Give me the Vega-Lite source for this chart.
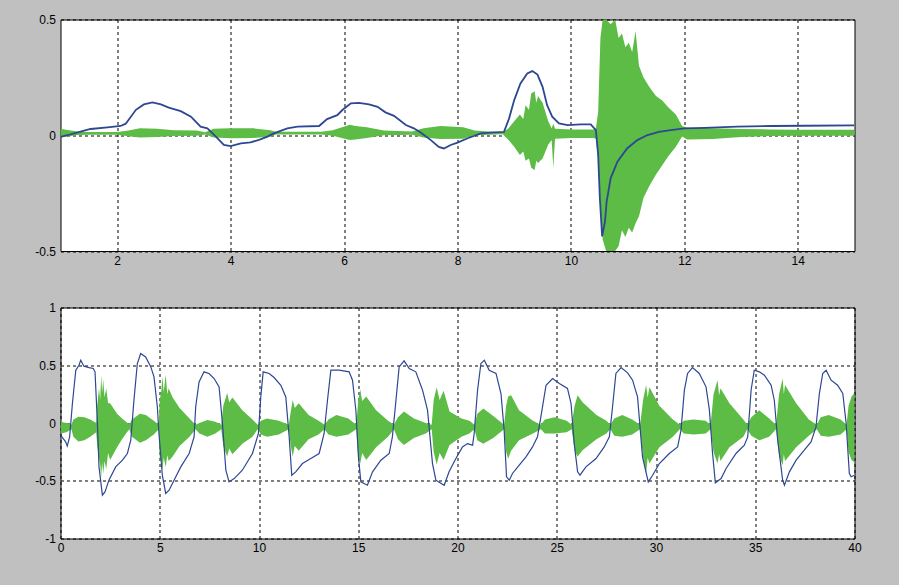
{
"$schema": "https://vega.github.io/schema/vega-lite/v6.json",
"background": "#c0c0c0",
"padding": {"left": 33.5, "top": 12.5, "right": 40, "bottom": 31},
"bounds": "flush",
"spacing": 56,
"datasets": {
"tb": [
{"t":1.0,"v":-0.007},{"t":1.12,"v":0.0},{"t":1.24,"v":0.008},{"t":1.53,"v":0.027},{"t":1.83,"v":0.034},{"t":2.06,"v":0.04},{"t":2.15,"v":0.05},{"t":2.33,"v":0.11},{"t":2.47,"v":0.133},{"t":2.62,"v":0.142},{"t":2.77,"v":0.133},{"t":2.91,"v":0.119},{"t":3.12,"v":0.104},{"t":3.3,"v":0.08},{"t":3.47,"v":0.037},{"t":3.59,"v":0.03},{"t":3.74,"v":-0.006},{"t":3.88,"v":-0.042},{"t":4.0,"v":-0.047},{"t":4.18,"v":-0.035},{"t":4.35,"v":-0.031},{"t":4.5,"v":-0.02},{"t":4.65,"v":-0.006},{"t":4.76,"v":0.008},{"t":5.0,"v":0.03},{"t":5.18,"v":0.037},{"t":5.56,"v":0.04},{"t":5.7,"v":0.07},{"t":5.88,"v":0.087},{"t":5.97,"v":0.109},{"t":6.12,"v":0.138},{"t":6.26,"v":0.14},{"t":6.44,"v":0.133},{"t":6.59,"v":0.123},{"t":6.73,"v":0.099},{"t":6.88,"v":0.084},{"t":7.09,"v":0.044},{"t":7.23,"v":0.03},{"t":7.35,"v":0.012},{"t":7.53,"v":-0.021},{"t":7.67,"v":-0.05},{"t":7.76,"v":-0.057},{"t":7.88,"v":-0.042},{"t":8.0,"v":-0.032},{"t":8.17,"v":-0.014},{"t":8.41,"v":0.008},{"t":8.64,"v":0.012},{"t":8.82,"v":0.015},{"t":8.91,"v":0.073},{"t":9.0,"v":0.152},{"t":9.11,"v":0.224},{"t":9.23,"v":0.267},{"t":9.32,"v":0.277},{"t":9.41,"v":0.262},{"t":9.5,"v":0.209},{"t":9.58,"v":0.13},{"t":9.67,"v":0.08},{"t":9.79,"v":0.051},{"t":9.94,"v":0.044},{"t":10.17,"v":0.047},{"t":10.35,"v":0.047},{"t":10.44,"v":0.022},{"t":10.48,"v":-0.085},{"t":10.51,"v":-0.272},{"t":10.55,"v":-0.437},{"t":10.6,"v":-0.373},{"t":10.63,"v":-0.287},{"t":10.7,"v":-0.186},{"t":10.82,"v":-0.114},{"t":10.99,"v":-0.057},{"t":11.17,"v":-0.021},{"t":11.35,"v":0.001},{"t":11.55,"v":0.015},{"t":11.76,"v":0.022},{"t":12.0,"v":0.03},{"t":12.35,"v":0.032},{"t":12.93,"v":0.037},{"t":13.52,"v":0.04},{"t":14.11,"v":0.041},{"t":15.0,"v":0.043}
],
"tg": [
{"t":1.0,"hi":0.028,"lo":-0.01},{"t":1.15,"hi":0.022,"lo":-0.004},{"t":1.3,"hi":0.016,"lo":0.001},{"t":1.5,"hi":0.014,"lo":0.002},{"t":2.0,"hi":0.014,"lo":0.002},{"t":2.2,"hi":0.02,"lo":-0.004},{"t":2.4,"hi":0.03,"lo":-0.01},{"t":2.7,"hi":0.028,"lo":-0.008},{"t":3.0,"hi":0.022,"lo":-0.003},{"t":3.4,"hi":0.02,"lo":-0.002},{"t":3.55,"hi":0.013,"lo":0.003},{"t":3.7,"hi":0.028,"lo":-0.01},{"t":4.0,"hi":0.03,"lo":-0.013},{"t":4.4,"hi":0.03,"lo":-0.012},{"t":4.7,"hi":0.022,"lo":-0.005},{"t":4.8,"hi":0.015,"lo":0.003},{"t":5.6,"hi":0.015,"lo":0.003},{"t":5.8,"hi":0.022,"lo":-0.002},{"t":6.1,"hi":0.045,"lo":-0.02},{"t":6.2,"hi":0.04,"lo":-0.018},{"t":6.4,"hi":0.035,"lo":-0.012},{"t":6.7,"hi":0.02,"lo":0.0},{"t":7.2,"hi":0.016,"lo":0.002},{"t":7.4,"hi":0.03,"lo":-0.01},{"t":7.7,"hi":0.04,"lo":-0.016},{"t":8.1,"hi":0.035,"lo":-0.015},{"t":8.3,"hi":0.02,"lo":0.0},{"t":8.8,"hi":0.012,"lo":0.004},{"t":8.9,"hi":0.03,"lo":-0.02},{"t":9.0,"hi":0.06,"lo":-0.05},{"t":9.1,"hi":0.09,"lo":-0.085},{"t":9.16,"hi":0.07,"lo":-0.07},{"t":9.2,"hi":0.13,"lo":-0.11},{"t":9.26,"hi":0.11,"lo":-0.1},{"t":9.3,"hi":0.18,"lo":-0.14},{"t":9.36,"hi":0.19,"lo":-0.15},{"t":9.39,"hi":0.14,"lo":-0.11},{"t":9.42,"hi":0.17,"lo":-0.12},{"t":9.5,"hi":0.14,"lo":-0.1},{"t":9.6,"hi":0.06,"lo":-0.04},{"t":9.66,"hi":0.03,"lo":-0.02},{"t":9.69,"hi":0.05,"lo":-0.14},{"t":9.72,"hi":0.028,"lo":-0.015},{"t":10.0,"hi":0.025,"lo":-0.012},{"t":10.4,"hi":0.025,"lo":-0.012},{"t":10.44,"hi":0.03,"lo":-0.015},{"t":10.48,"hi":0.1,"lo":-0.1},{"t":10.52,"hi":0.42,"lo":-0.3},{"t":10.56,"hi":0.5,"lo":-0.45},{"t":10.62,"hi":0.5,"lo":-0.5},{"t":10.7,"hi":0.48,"lo":-0.5},{"t":10.78,"hi":0.5,"lo":-0.5},{"t":10.84,"hi":0.42,"lo":-0.48},{"t":10.9,"hi":0.44,"lo":-0.41},{"t":10.96,"hi":0.38,"lo":-0.44},{"t":11.02,"hi":0.4,"lo":-0.4},{"t":11.08,"hi":0.36,"lo":-0.42},{"t":11.14,"hi":0.45,"lo":-0.38},{"t":11.2,"hi":0.3,"lo":-0.35},{"t":11.28,"hi":0.25,"lo":-0.27},{"t":11.38,"hi":0.21,"lo":-0.22},{"t":11.5,"hi":0.17,"lo":-0.17},{"t":11.61,"hi":0.15,"lo":-0.13},{"t":11.72,"hi":0.12,"lo":-0.09},{"t":11.85,"hi":0.09,"lo":-0.05},{"t":11.96,"hi":0.04,"lo":-0.005},{"t":12.05,"hi":0.032,"lo":-0.018},{"t":12.5,"hi":0.03,"lo":-0.016},{"t":13.0,"hi":0.027,"lo":-0.008},{"t":13.5,"hi":0.025,"lo":-0.003},{"t":14.0,"hi":0.024,"lo":-0.002},{"t":15.0,"hi":0.024,"lo":-0.002}
],
"bb": [
{"t":0.0,"v":-0.106},{"t":0.26,"v":-0.163},{"t":0.34,"v":-0.2},{"t":0.46,"v":-0.12},{"t":0.6,"v":0.169},{"t":0.77,"v":0.457},{"t":0.93,"v":0.5},{"t":1.02,"v":0.544},{"t":1.18,"v":0.492},{"t":1.44,"v":0.48},{"t":1.65,"v":0.472},{"t":1.74,"v":0.443},{"t":1.86,"v":-0.005},{"t":1.94,"v":-0.38},{"t":2.11,"v":-0.625},{"t":2.24,"v":-0.596},{"t":2.44,"v":-0.495},{"t":2.78,"v":-0.38},{"t":3.12,"v":-0.322},{"t":3.37,"v":-0.264},{"t":3.54,"v":-0.149},{"t":3.7,"v":0.197},{"t":3.87,"v":0.515},{"t":4.04,"v":0.602},{"t":4.29,"v":0.572},{"t":4.55,"v":0.486},{"t":4.71,"v":0.399},{"t":4.88,"v":0.139},{"t":4.96,"v":-0.091},{"t":5.13,"v":-0.452},{"t":5.3,"v":-0.61},{"t":5.47,"v":-0.582},{"t":5.72,"v":-0.495},{"t":6.06,"v":-0.38},{"t":6.48,"v":-0.264},{"t":6.73,"v":-0.12},{"t":6.81,"v":0.139},{"t":6.98,"v":0.356},{"t":7.23,"v":0.443},{"t":7.48,"v":0.429},{"t":7.74,"v":0.385},{"t":7.99,"v":0.313},{"t":8.16,"v":-0.005},{"t":8.33,"v":-0.409},{"t":8.49,"v":-0.51},{"t":8.75,"v":-0.481},{"t":9.16,"v":-0.409},{"t":9.67,"v":-0.264},{"t":9.97,"v":-0.091},{"t":10.09,"v":0.226},{"t":10.21,"v":0.443},{"t":10.51,"v":0.429},{"t":10.76,"v":0.394},{"t":11.1,"v":0.327},{"t":11.35,"v":0.226},{"t":11.52,"v":-0.12},{"t":11.65,"v":-0.452},{"t":11.85,"v":-0.423},{"t":12.19,"v":-0.351},{"t":12.61,"v":-0.308},{"t":13.03,"v":-0.264},{"t":13.28,"v":-0.091},{"t":13.45,"v":0.197},{"t":13.62,"v":0.457},{"t":14.04,"v":0.457},{"t":14.54,"v":0.443},{"t":14.71,"v":0.371},{"t":14.88,"v":0.111},{"t":15.01,"v":-0.293},{"t":15.13,"v":-0.51},{"t":15.46,"v":-0.539},{"t":15.72,"v":-0.423},{"t":16.14,"v":-0.322},{"t":16.56,"v":-0.264},{"t":16.72,"v":-0.12},{"t":16.9,"v":0.197},{"t":17.06,"v":0.486},{"t":17.31,"v":0.538},{"t":17.57,"v":0.472},{"t":17.9,"v":0.443},{"t":18.24,"v":0.284},{"t":18.49,"v":0.111},{"t":18.74,"v":-0.351},{"t":18.91,"v":-0.495},{"t":19.33,"v":-0.539},{"t":19.58,"v":-0.42},{"t":19.92,"v":-0.308},{"t":20.25,"v":-0.207},{"t":20.5,"v":-0.178},{"t":20.76,"v":-0.192},{"t":20.84,"v":-0.091},{"t":21.01,"v":0.284},{"t":21.18,"v":0.515},{"t":21.35,"v":0.544},{"t":21.6,"v":0.457},{"t":21.94,"v":0.429},{"t":22.19,"v":0.255},{"t":22.35,"v":-0.062},{"t":22.47,"v":-0.466},{"t":22.61,"v":-0.495},{"t":22.77,"v":-0.437},{"t":23.11,"v":-0.365},{"t":23.45,"v":-0.293},{"t":23.78,"v":-0.207},{"t":24.03,"v":-0.12},{"t":24.2,"v":0.053},{"t":24.46,"v":0.327},{"t":24.79,"v":0.385},{"t":25.13,"v":0.342},{"t":25.54,"v":0.299},{"t":25.72,"v":0.169},{"t":25.88,"v":-0.178},{"t":26.05,"v":-0.423},{"t":26.17,"v":-0.452},{"t":26.47,"v":-0.38},{"t":26.98,"v":-0.308},{"t":27.39,"v":-0.207},{"t":27.65,"v":-0.12},{"t":27.81,"v":0.139},{"t":27.98,"v":0.429},{"t":28.24,"v":0.48},{"t":28.57,"v":0.434},{"t":28.82,"v":0.371},{"t":29.07,"v":0.226},{"t":29.32,"v":-0.293},{"t":29.61,"v":-0.51},{"t":29.83,"v":-0.452},{"t":30.17,"v":-0.351},{"t":30.67,"v":-0.264},{"t":31.09,"v":-0.207},{"t":31.26,"v":-0.062},{"t":31.43,"v":0.284},{"t":31.59,"v":0.429},{"t":31.84,"v":0.48},{"t":32.18,"v":0.429},{"t":32.52,"v":0.313},{"t":32.69,"v":0.111},{"t":32.85,"v":-0.264},{"t":32.99,"v":-0.518},{"t":33.28,"v":-0.481},{"t":33.53,"v":-0.394},{"t":34.03,"v":-0.264},{"t":34.45,"v":-0.192},{"t":34.62,"v":-0.12},{"t":34.79,"v":0.284},{"t":34.95,"v":0.457},{"t":35.21,"v":0.443},{"t":35.46,"v":0.414},{"t":35.8,"v":0.327},{"t":35.96,"v":0.197},{"t":36.13,"v":-0.149},{"t":36.38,"v":-0.495},{"t":36.47,"v":-0.539},{"t":36.72,"v":-0.423},{"t":37.06,"v":-0.322},{"t":37.47,"v":-0.235},{"t":37.81,"v":-0.164},{"t":38.06,"v":-0.034},{"t":38.23,"v":0.255},{"t":38.4,"v":0.429},{"t":38.57,"v":0.457},{"t":38.82,"v":0.371},{"t":39.15,"v":0.327},{"t":39.41,"v":0.255},{"t":39.58,"v":-0.005},{"t":39.74,"v":-0.437},{"t":39.83,"v":-0.466},{"t":40.0,"v":-0.452}
],
"bg": [
{"t":0.0,"hi":0.01,"lo":-0.09},{"t":0.3,"hi":0.0,"lo":-0.08},{"t":0.55,"hi":-0.015,"lo":-0.055},{"t":0.65,"hi":0.03,"lo":-0.12},{"t":0.9,"hi":0.055,"lo":-0.16},{"t":1.2,"hi":0.05,"lo":-0.15},{"t":1.5,"hi":0.03,"lo":-0.12},{"t":1.8,"hi":0.0,"lo":-0.08},{"t":1.85,"hi":0.15,"lo":-0.2},{"t":1.94,"hi":0.3,"lo":-0.3},{"t":2.0,"hi":0.2,"lo":-0.36},{"t":2.05,"hi":0.42,"lo":-0.47},{"t":2.1,"hi":0.26,"lo":-0.34},{"t":2.15,"hi":0.38,"lo":-0.44},{"t":2.22,"hi":0.22,"lo":-0.33},{"t":2.3,"hi":0.3,"lo":-0.4},{"t":2.4,"hi":0.17,"lo":-0.26},{"t":2.5,"hi":0.17,"lo":-0.32},{"t":2.85,"hi":0.08,"lo":-0.21},{"t":3.1,"hi":0.04,"lo":-0.14},{"t":3.3,"hi":0.01,"lo":-0.09},{"t":3.47,"hi":-0.015,"lo":-0.055},{"t":3.6,"hi":0.03,"lo":-0.12},{"t":4.0,"hi":0.08,"lo":-0.17},{"t":4.3,"hi":0.07,"lo":-0.15},{"t":4.7,"hi":0.02,"lo":-0.1},{"t":4.95,"hi":-0.015,"lo":-0.055},{"t":5.0,"hi":0.2,"lo":-0.3},{"t":5.08,"hi":0.28,"lo":-0.32},{"t":5.13,"hi":0.4,"lo":-0.41},{"t":5.2,"hi":0.27,"lo":-0.3},{"t":5.3,"hi":0.42,"lo":-0.38},{"t":5.38,"hi":0.25,"lo":-0.28},{"t":5.45,"hi":0.3,"lo":-0.33},{"t":5.65,"hi":0.22,"lo":-0.29},{"t":6.0,"hi":0.13,"lo":-0.2},{"t":6.5,"hi":0.04,"lo":-0.12},{"t":6.8,"hi":-0.015,"lo":-0.055},{"t":7.0,"hi":0.0,"lo":-0.09},{"t":7.4,"hi":0.025,"lo":-0.12},{"t":7.8,"hi":0.01,"lo":-0.09},{"t":8.1,"hi":-0.015,"lo":-0.055},{"t":8.2,"hi":0.15,"lo":-0.2},{"t":8.4,"hi":0.26,"lo":-0.29},{"t":8.5,"hi":0.18,"lo":-0.22},{"t":8.66,"hi":0.22,"lo":-0.27},{"t":9.16,"hi":0.11,"lo":-0.18},{"t":9.67,"hi":0.03,"lo":-0.12},{"t":9.93,"hi":-0.015,"lo":-0.055},{"t":10.1,"hi":0.02,"lo":-0.1},{"t":10.4,"hi":0.04,"lo":-0.12},{"t":11.0,"hi":0.02,"lo":-0.1},{"t":11.5,"hi":-0.015,"lo":-0.055},{"t":11.6,"hi":0.1,"lo":-0.2},{"t":11.7,"hi":0.2,"lo":-0.29},{"t":11.8,"hi":0.13,"lo":-0.2},{"t":12.0,"hi":0.17,"lo":-0.24},{"t":12.5,"hi":0.07,"lo":-0.14},{"t":13.0,"hi":0.02,"lo":-0.1},{"t":13.3,"hi":-0.015,"lo":-0.055},{"t":13.5,"hi":0.03,"lo":-0.1},{"t":13.9,"hi":0.07,"lo":-0.12},{"t":14.5,"hi":0.04,"lo":-0.1},{"t":14.9,"hi":-0.015,"lo":-0.055},{"t":15.0,"hi":0.2,"lo":-0.3},{"t":15.1,"hi":0.29,"lo":-0.35},{"t":15.2,"hi":0.19,"lo":-0.26},{"t":15.4,"hi":0.23,"lo":-0.32},{"t":15.9,"hi":0.11,"lo":-0.21},{"t":16.5,"hi":0.02,"lo":-0.12},{"t":16.8,"hi":-0.015,"lo":-0.055},{"t":17.0,"hi":0.05,"lo":-0.14},{"t":17.3,"hi":0.1,"lo":-0.19},{"t":17.8,"hi":0.04,"lo":-0.13},{"t":18.4,"hi":0.0,"lo":-0.09},{"t":18.7,"hi":-0.015,"lo":-0.055},{"t":18.8,"hi":0.2,"lo":-0.25},{"t":18.95,"hi":0.31,"lo":-0.36},{"t":19.1,"hi":0.2,"lo":-0.26},{"t":19.3,"hi":0.28,"lo":-0.32},{"t":19.6,"hi":0.1,"lo":-0.19},{"t":20.2,"hi":0.04,"lo":-0.12},{"t":20.6,"hi":0.02,"lo":-0.09},{"t":20.85,"hi":-0.015,"lo":-0.055},{"t":21.0,"hi":0.08,"lo":-0.15},{"t":21.3,"hi":0.125,"lo":-0.18},{"t":21.8,"hi":0.06,"lo":-0.13},{"t":22.35,"hi":-0.015,"lo":-0.055},{"t":22.45,"hi":0.15,"lo":-0.25},{"t":22.55,"hi":0.23,"lo":-0.31},{"t":22.7,"hi":0.24,"lo":-0.24},{"t":23.1,"hi":0.11,"lo":-0.15},{"t":23.8,"hi":0.02,"lo":-0.09},{"t":24.2,"hi":-0.015,"lo":-0.055},{"t":24.4,"hi":0.03,"lo":-0.09},{"t":24.9,"hi":0.05,"lo":-0.09},{"t":25.5,"hi":0.02,"lo":-0.08},{"t":25.75,"hi":-0.015,"lo":-0.055},{"t":25.9,"hi":0.15,"lo":-0.24},{"t":26.05,"hi":0.24,"lo":-0.29},{"t":26.3,"hi":0.18,"lo":-0.235},{"t":27.0,"hi":0.07,"lo":-0.14},{"t":27.5,"hi":0.02,"lo":-0.09},{"t":27.7,"hi":-0.015,"lo":-0.055},{"t":27.9,"hi":0.04,"lo":-0.11},{"t":28.3,"hi":0.07,"lo":-0.12},{"t":28.8,"hi":0.03,"lo":-0.1},{"t":29.2,"hi":-0.015,"lo":-0.055},{"t":29.35,"hi":0.2,"lo":-0.3},{"t":29.5,"hi":0.33,"lo":-0.44},{"t":29.58,"hi":0.22,"lo":-0.3},{"t":29.67,"hi":0.31,"lo":-0.35},{"t":30.17,"hi":0.15,"lo":-0.21},{"t":30.85,"hi":0.03,"lo":-0.12},{"t":31.2,"hi":-0.015,"lo":-0.055},{"t":31.4,"hi":0.02,"lo":-0.09},{"t":31.9,"hi":0.03,"lo":-0.1},{"t":32.5,"hi":0.02,"lo":-0.09},{"t":32.75,"hi":-0.015,"lo":-0.055},{"t":32.9,"hi":0.25,"lo":-0.25},{"t":33.1,"hi":0.37,"lo":-0.35},{"t":33.18,"hi":0.24,"lo":-0.27},{"t":33.25,"hi":0.3,"lo":-0.33},{"t":33.7,"hi":0.17,"lo":-0.21},{"t":34.4,"hi":0.03,"lo":-0.12},{"t":34.6,"hi":-0.015,"lo":-0.055},{"t":34.8,"hi":0.05,"lo":-0.11},{"t":35.2,"hi":0.11,"lo":-0.15},{"t":35.7,"hi":0.04,"lo":-0.12},{"t":36.05,"hi":-0.015,"lo":-0.055},{"t":36.2,"hi":0.25,"lo":-0.28},{"t":36.38,"hi":0.385,"lo":-0.365},{"t":36.44,"hi":0.25,"lo":-0.27},{"t":36.5,"hi":0.33,"lo":-0.33},{"t":37.06,"hi":0.17,"lo":-0.21},{"t":37.7,"hi":0.03,"lo":-0.11},{"t":38.1,"hi":-0.015,"lo":-0.055},{"t":38.3,"hi":0.05,"lo":-0.11},{"t":38.7,"hi":0.07,"lo":-0.12},{"t":39.3,"hi":0.03,"lo":-0.1},{"t":39.6,"hi":-0.015,"lo":-0.055},{"t":39.7,"hi":0.15,"lo":-0.25},{"t":39.85,"hi":0.23,"lo":-0.32},{"t":40.0,"hi":0.26,"lo":-0.34}
]
},
"vconcat": [
{
"width": 794, "height": 231.5,
"layer": [
{"data": {"name": "tg"}, "mark": {"type": "area", "color": "#5cbc45", "opacity": 1, "clip": true},
 "encoding": {
  "x": {"field": "t", "type": "quantitative", "scale": {"domain": [1, 15], "nice": false, "zero": false}, "axis": {"values": [2,4,6,8,10,12,14], "title": null}},
  "y": {"field": "hi", "type": "quantitative", "scale": {"domain": [-0.5, 0.5], "nice": false, "zero": false}, "axis": {"values": [-0.5, 0, 0.5], "title": null}},
  "y2": {"field": "lo"}
 }},
{"data": {"name": "tb"}, "mark": {"type": "line", "color": "#2e4793", "strokeWidth": 1.8, "clip": true},
 "encoding": {
  "x": {"field": "t", "type": "quantitative"},
  "y": {"field": "v", "type": "quantitative"}
 }}
]
},
{
"width": 794, "height": 231,
"layer": [
{"data": {"name": "bg"}, "mark": {"type": "area", "color": "#5cbc45", "opacity": 1, "clip": true},
 "encoding": {
  "x": {"field": "t", "type": "quantitative", "scale": {"domain": [0, 40], "nice": false, "zero": false}, "axis": {"values": [0,5,10,15,20,25,30,35,40], "title": null}},
  "y": {"field": "hi", "type": "quantitative", "scale": {"domain": [-1, 1], "nice": false, "zero": false}, "axis": {"values": [-1, -0.5, 0, 0.5, 1], "title": null}},
  "y2": {"field": "lo"}
 }},
{"data": {"name": "bb"}, "mark": {"type": "line", "color": "#2e4793", "strokeWidth": 1.2, "clip": true},
 "encoding": {
  "x": {"field": "t", "type": "quantitative"},
  "y": {"field": "v", "type": "quantitative"}
 }}
]
}
],
"config": {
"view": {"stroke": "black", "strokeWidth": 1, "fill": "white"},
"axis": {"domain": false, "ticks": false, "tickSize": 0, "format": "~g", "labelFont": "Liberation Sans", "labelFontSize": 12, "labelColor": "black", "labelFlush": false, "labelOverlap": false, "grid": true, "gridColor": "black", "gridDash": [3, 3], "gridWidth": 1, "gridOpacity": 1, "labelExpr": "replace(datum.label, '\u2212', '-')"},
"axisX": {"labelPadding": 4},
"axisY": {"labelPadding": 5}
}
}
